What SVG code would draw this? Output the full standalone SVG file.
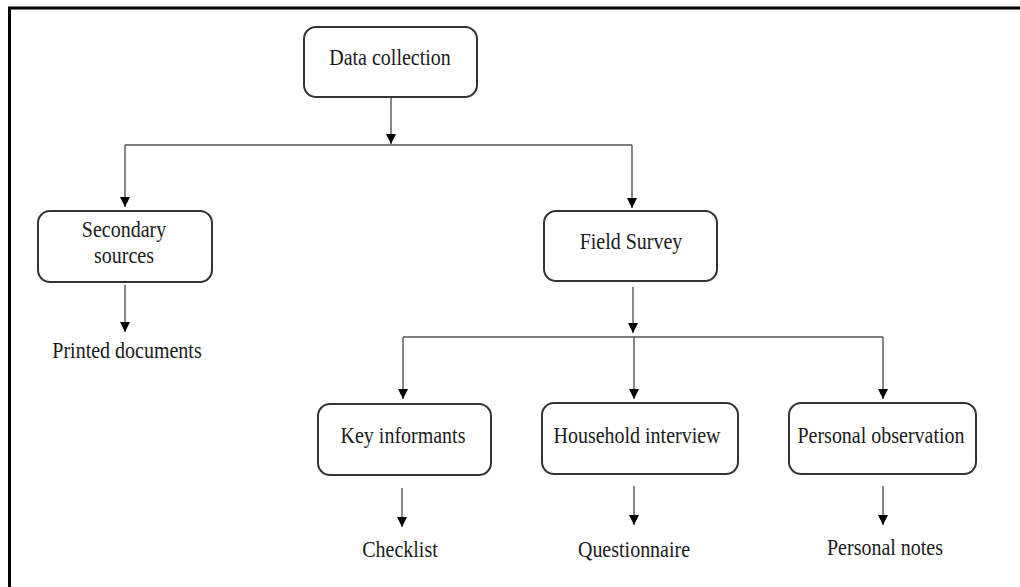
<svg xmlns="http://www.w3.org/2000/svg" width="1020" height="587" viewBox="0 0 1020 587">
<style>
.box{fill:#fff;stroke:#333;stroke-width:2}
text{font-family:'Liberation Serif','Tinos','Times New Roman','DejaVu Serif',serif;font-size:20px;fill:#1a1a1a;text-anchor:middle}
.c{fill:none;stroke:#555;stroke-width:1.4}
</style>
<defs>
<marker id="ah" markerUnits="userSpaceOnUse" markerWidth="10" markerHeight="10" refX="10" refY="5" orient="auto">
<path d="M0,0 L10,5 L0,10 Z" fill="#000"/>
</marker>
</defs>
<rect width="1020" height="587" fill="#fff"/>
<path d="M9.5,587 V8 H1020" fill="none" stroke="#000" stroke-width="3"/>
<g id="connectors">
<path class="c" d="M391,97 V144" marker-end="url(#ah)"/>
<path class="c" d="M125,145 H632"/>
<path class="c" d="M125,145 V207" marker-end="url(#ah)"/>
<path class="c" d="M632,145 V208" marker-end="url(#ah)"/>
<path class="c" d="M125,285 V332" marker-end="url(#ah)"/>
<path class="c" d="M633,287 V333" marker-end="url(#ah)"/>
<path class="c" d="M403,337 H883"/>
<path class="c" d="M403,337 V399" marker-end="url(#ah)"/>
<path class="c" d="M634,337 V399" marker-end="url(#ah)"/>
<path class="c" d="M883,337 V399" marker-end="url(#ah)"/>
<path class="c" d="M402,488 V527" marker-end="url(#ah)"/>
<path class="c" d="M634,486 V525" marker-end="url(#ah)"/>
<path class="c" d="M883,486 V525" marker-end="url(#ah)"/>
</g>
<g id="data-collection">
<rect class="box" x="304" y="27" width="173" height="70" rx="12"/>
<text transform="translate(390,65) scale(1,1.13)">Data collection</text>
</g>
<g id="secondary-sources">
<rect class="box" x="38" y="211" width="174" height="71" rx="12"/>
<text transform="translate(124,237) scale(1,1.13)">Secondary</text>
<text transform="translate(124,263) scale(1,1.13)">sources</text>
</g>
<g id="field-survey">
<rect class="box" x="544" y="211" width="173" height="70" rx="12"/>
<text transform="translate(631,249) scale(1,1.13)">Field Survey</text>
</g>
<g id="printed-documents">
<text transform="translate(127,358) scale(1,1.13)">Printed documents</text>
</g>
<g id="key-informants">
<rect class="box" x="318" y="404" width="173" height="71" rx="12"/>
<text transform="translate(403,443) scale(1,1.13)">Key informants</text>
</g>
<g id="household-interview">
<rect class="box" x="542" y="403" width="196" height="71" rx="12"/>
<text transform="translate(637,443) scale(1,1.13)">Household interview</text>
</g>
<g id="personal-observation">
<rect class="box" x="789" y="403" width="187" height="71" rx="12"/>
<text transform="translate(881,443) scale(1,1.13)">Personal observation</text>
</g>
<g id="checklist">
<text transform="translate(400,557) scale(1,1.13)">Checklist</text>
</g>
<g id="questionnaire">
<text transform="translate(634,557) scale(1,1.13)">Questionnaire</text>
</g>
<g id="personal-notes">
<text transform="translate(885,555) scale(1,1.13)">Personal notes</text>
</g>
</svg>
